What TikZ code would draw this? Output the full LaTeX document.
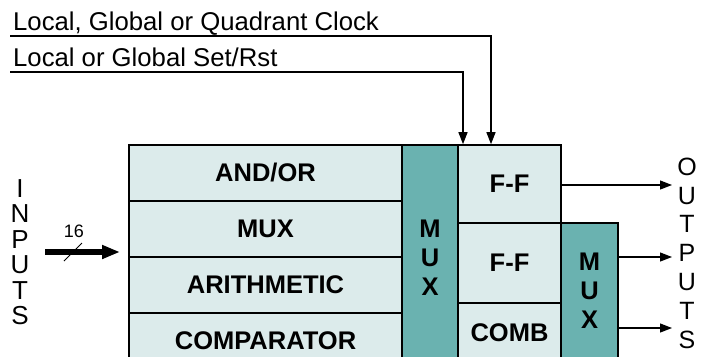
\documentclass[tikz,border=0pt]{standalone}
\usepackage{fontspec}
\setmainfont{Liberation Sans}
\usetikzlibrary{arrows.meta}
\definecolor{lightbox}{RGB}{220,235,235}
\definecolor{teal}{RGB}{106,178,176}
\begin{document}
\begin{tikzpicture}[x=1pt,y=-1pt,
  blk/.style={draw=black,line width=1.6pt,fill=lightbox,inner sep=0pt,
    font=\bfseries\fontsize{25.5}{28}\selectfont},
  muxbox/.style={draw=black,line width=1.6pt,fill=teal,inner sep=0pt,
    font=\bfseries\fontsize{25.5}{29}\selectfont,align=center},
  conn/.style={line width=1.2pt,-{Triangle[length=12pt,width=9pt]}},
  lbl/.style={font=\fontsize{25.7}{28}\selectfont,inner sep=0pt},
  vlbl/.style={font=\fontsize{26}{25.5}\selectfont,align=center,inner sep=0pt}]
\useasboundingbox (0,0) rectangle (701,356);
\clip (0,0) rectangle (701,356);
% left column
\node[blk,minimum width=273pt,minimum height=56pt] (andor) at (265.5,173) {AND/OR};
\node[blk,minimum width=273pt,minimum height=56pt] (mux1) at (265.5,229) {MUX};
\node[blk,minimum width=273pt,minimum height=56pt] (arith) at (265.5,285) {ARITHMETIC};
\node[blk,minimum width=273pt,minimum height=56pt] (comp) at (265.5,341) {COMPARATOR};
% big mux
\node[muxbox,minimum width=56pt,minimum height=226pt] (bigmux) at (430,258) {M\\U\\X};
% flip-flops
\node[blk,minimum width=103pt,minimum height=78pt] (ff1) at (509.5,184) {F-F};
\node[blk,minimum width=103pt,minimum height=80pt] (ff2) at (509.5,263) {F-F};
\node[blk,minimum width=103pt,minimum height=60pt] (comb) at (509.5,333) {COMB};
% small mux
\node[muxbox,minimum width=57pt,minimum height=136pt] (smux) at (589.5,291) {M\\U\\X};
% top control lines
\node[lbl,anchor=base west] (clk) at (13,30) {Local, Global or Quadrant Clock};
\node[lbl,anchor=base west] (rst) at (13,66) {Local or Global Set/Rst};
\coordinate (clkstart) at (10,36);
\coordinate (rststart) at (10,72);
\draw[conn] (clkstart) -| (ff1.north -| 491,0);
\draw[conn] (rststart) -| (ff1.north -| 463,0);
% inputs
\node[vlbl] (inputs) at (20,252) {I\\N\\P\\U\\T\\S};
\coordinate (instart) at (45,252);
\coordinate (inend) at (120,252);
\draw[line width=5.5pt,-{Triangle[length=18pt,width=13pt]}] (instart) -- (inend);
\coordinate (sl1) at (64,261);
\coordinate (sl2) at (82,243);
\draw[line width=0.8pt] (sl1) -- (sl2);
\node[font=\fontsize{18}{20}\selectfont,inner sep=0pt] (sixteen) at (74,231) {16};
% outputs
\node[vlbl,font=\fontsize{25}{28.8}\selectfont] (outputs) at (687,253) {O\\U\\T\\P\\U\\T\\S};
\coordinate (o1) at (672,185);
\coordinate (o2) at (672,257);
\coordinate (o3) at (672,328);
\draw[conn] (ff1.east |- o1) -- (o1);
\draw[conn] (smux.east |- o2) -- (o2);
\draw[conn] (smux.east |- o3) -- (o3);
\end{tikzpicture}
\end{document}
